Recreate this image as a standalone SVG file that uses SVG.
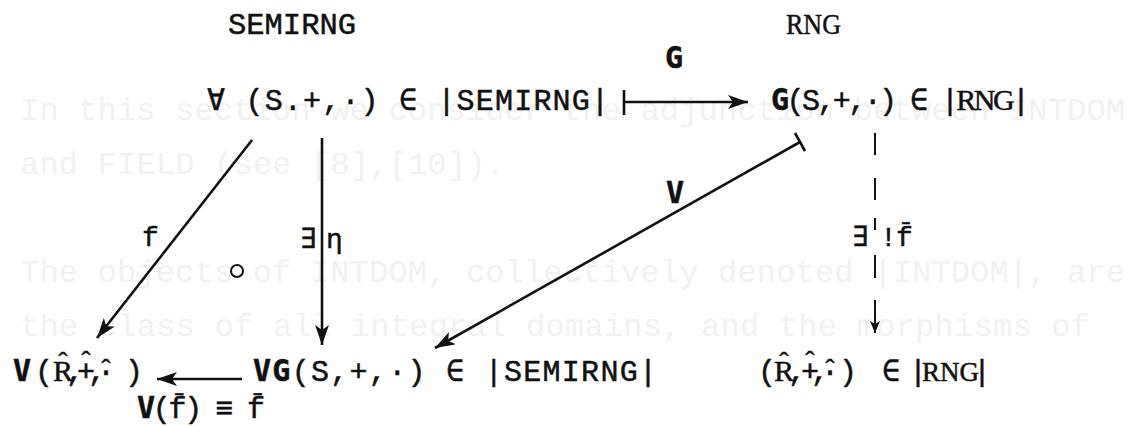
<svg xmlns="http://www.w3.org/2000/svg" width="1128" height="426" viewBox="0 0 1128 426">
<defs>
<style>
.ghost{font-family:"Liberation Mono",monospace;font-size:32px;fill:#f1f1f1}
.t{font-family:"Liberation Mono","DejaVu Sans Mono",monospace;font-size:30px;fill:#111;stroke:#111;stroke-width:0.5}
.s{font-family:"Liberation Serif","DejaVu Serif",serif}
.b{font-family:"DejaVu Sans Mono",monospace;font-weight:bold}
.hat{font-family:"Liberation Serif","DejaVu Serif",serif;font-size:28px;fill:#111;stroke:#111;stroke-width:0.4;text-anchor:middle}
.lbl{font-family:"Liberation Mono","DejaVu Sans Mono",monospace;font-size:28px;fill:#111;stroke:#111;stroke-width:0.5}
.ln{stroke:#111;stroke-width:2.6;fill:none}
.dl{stroke:#111;stroke-width:2;fill:none}
</style>
<marker id="ah" markerUnits="userSpaceOnUse" markerWidth="22" markerHeight="16" refX="20" refY="7" orient="auto" viewBox="0 0 22 16">
<path d="M0,0 L20,7 L0,14 L5,7 z" fill="#111"/>
</marker>
<marker id="ahs" markerUnits="userSpaceOnUse" markerWidth="14" markerHeight="12" refX="12" refY="5" orient="auto" viewBox="0 0 14 12">
<path d="M0,0 L12,5 L0,10 L3,5 z" fill="#111"/>
</marker>
</defs>
<rect width="1128" height="426" fill="#ffffff"/>
<g id="bleed-through">
<text class="ghost" x="20" y="120" textLength="1105" lengthAdjust="spacing">In this section we consider the adjunction between INTDOM</text>
<text class="ghost" x="20" y="174" textLength="485" lengthAdjust="spacing">and FIELD (see [8],[10]).</text>
<text class="ghost" x="20" y="282" textLength="1105" lengthAdjust="spacing">The objects of INTDOM, collectively denoted |INTDOM|, are</text>
<text class="ghost" x="20" y="336" textLength="1070" lengthAdjust="spacing">the class of all integral domains, and the morphisms of</text>
</g>
<g id="headers">
<text class="t" x="228" y="34" font-size="32" textLength="128" lengthAdjust="spacingAndGlyphs">SEMIRNG</text>
<text class="t s" x="786" y="34" textLength="55" lengthAdjust="spacingAndGlyphs">RNG</text>
</g>
<g id="node-S">
<text class="t" x="207" y="110" textLength="402" lengthAdjust="spacing">∀ (S.+,·) ∈ |SEMIRNG|</text>
</g>
<g id="node-GS">
<text class="t" x="771" y="110" textLength="259" lengthAdjust="spacing"><tspan class="b">G</tspan>(S,+,·) ∈ |<tspan class="s">RNG</tspan>|</text>
</g>
<g id="node-VR">
<text class="t" y="381"><tspan class="b" x="13">V</tspan><tspan x="35">(</tspan><tspan class="s" x="53">R</tspan><tspan x="66 77 88 97 125">,+,·)</tspan></text>
<text class="hat" x="63" y="371">ˆ</text>
<text class="hat" x="86" y="370">ˆ</text>
<text class="hat" x="106" y="378">ˆ</text>
</g>
<g id="node-VGS">
<text class="t" x="253" y="381" textLength="404" lengthAdjust="spacing"><tspan class="b">VG</tspan>(S,+,·) ∈ |SEMIRNG|</text>
</g>
<g id="node-R">
<text class="t" y="381"><tspan x="758">(</tspan><tspan class="s" x="774">R</tspan><tspan x="788 801 811 821 839">,+,·)</tspan><tspan x="882">∈</tspan><tspan x="909">|</tspan><tspan class="s" x="922" font-size="27">RNG</tspan><tspan x="973">|</tspan></text>
<text class="hat" x="784" y="371">ˆ</text>
<text class="hat" x="810" y="370">ˆ</text>
<text class="hat" x="830" y="378">ˆ</text>
</g>
<g id="connectors">
<line class="ln" x1="624" y1="90" x2="624" y2="115"/>
<line class="ln" x1="624" y1="102" x2="748" y2="102" marker-end="url(#ah)"/>
<line class="ln" x1="252" y1="140" x2="97" y2="338" marker-end="url(#ah)"/>
<line class="ln" x1="322" y1="138" x2="322" y2="345" marker-end="url(#ah)"/>
<line class="ln" x1="800" y1="142" x2="435" y2="348" marker-end="url(#ah)"/>
<line class="ln" x1="795" y1="133" x2="805" y2="151"/>
<line class="ln" x1="242" y1="379" x2="157" y2="379" marker-end="url(#ah)"/>
<line class="dl" x1="875" y1="133" x2="875" y2="155"/>
<line class="dl" x1="875" y1="178" x2="875" y2="200"/>
<line class="dl" x1="875" y1="218" x2="875" y2="230"/>
<line class="dl" x1="875" y1="255" x2="875" y2="278"/>
<line class="dl" x1="875" y1="300" x2="875" y2="333" marker-end="url(#ahs)"/>
</g>
<g id="labels">
<text class="t b" x="665" y="68" font-size="26">G</text>
<text class="t b" x="666" y="203" font-size="26">V</text>
<text class="lbl" x="142" y="246">f</text>
<text class="lbl" x="300" y="248">∃</text>
<text class="lbl s" x="326" y="248">η</text>
<circle cx="237" cy="271" r="6" fill="none" stroke="#111" stroke-width="2"/>
<text class="lbl" x="852" y="246">∃</text>
<text class="lbl" x="880" y="246">!</text>
<text class="lbl" x="896" y="246">f&#x304;</text>
<text class="t" x="137" y="418" textLength="128" lengthAdjust="spacing"><tspan class="b">V</tspan>(f&#x304;) ≡ f&#x304;</text>
</g>
</svg>
